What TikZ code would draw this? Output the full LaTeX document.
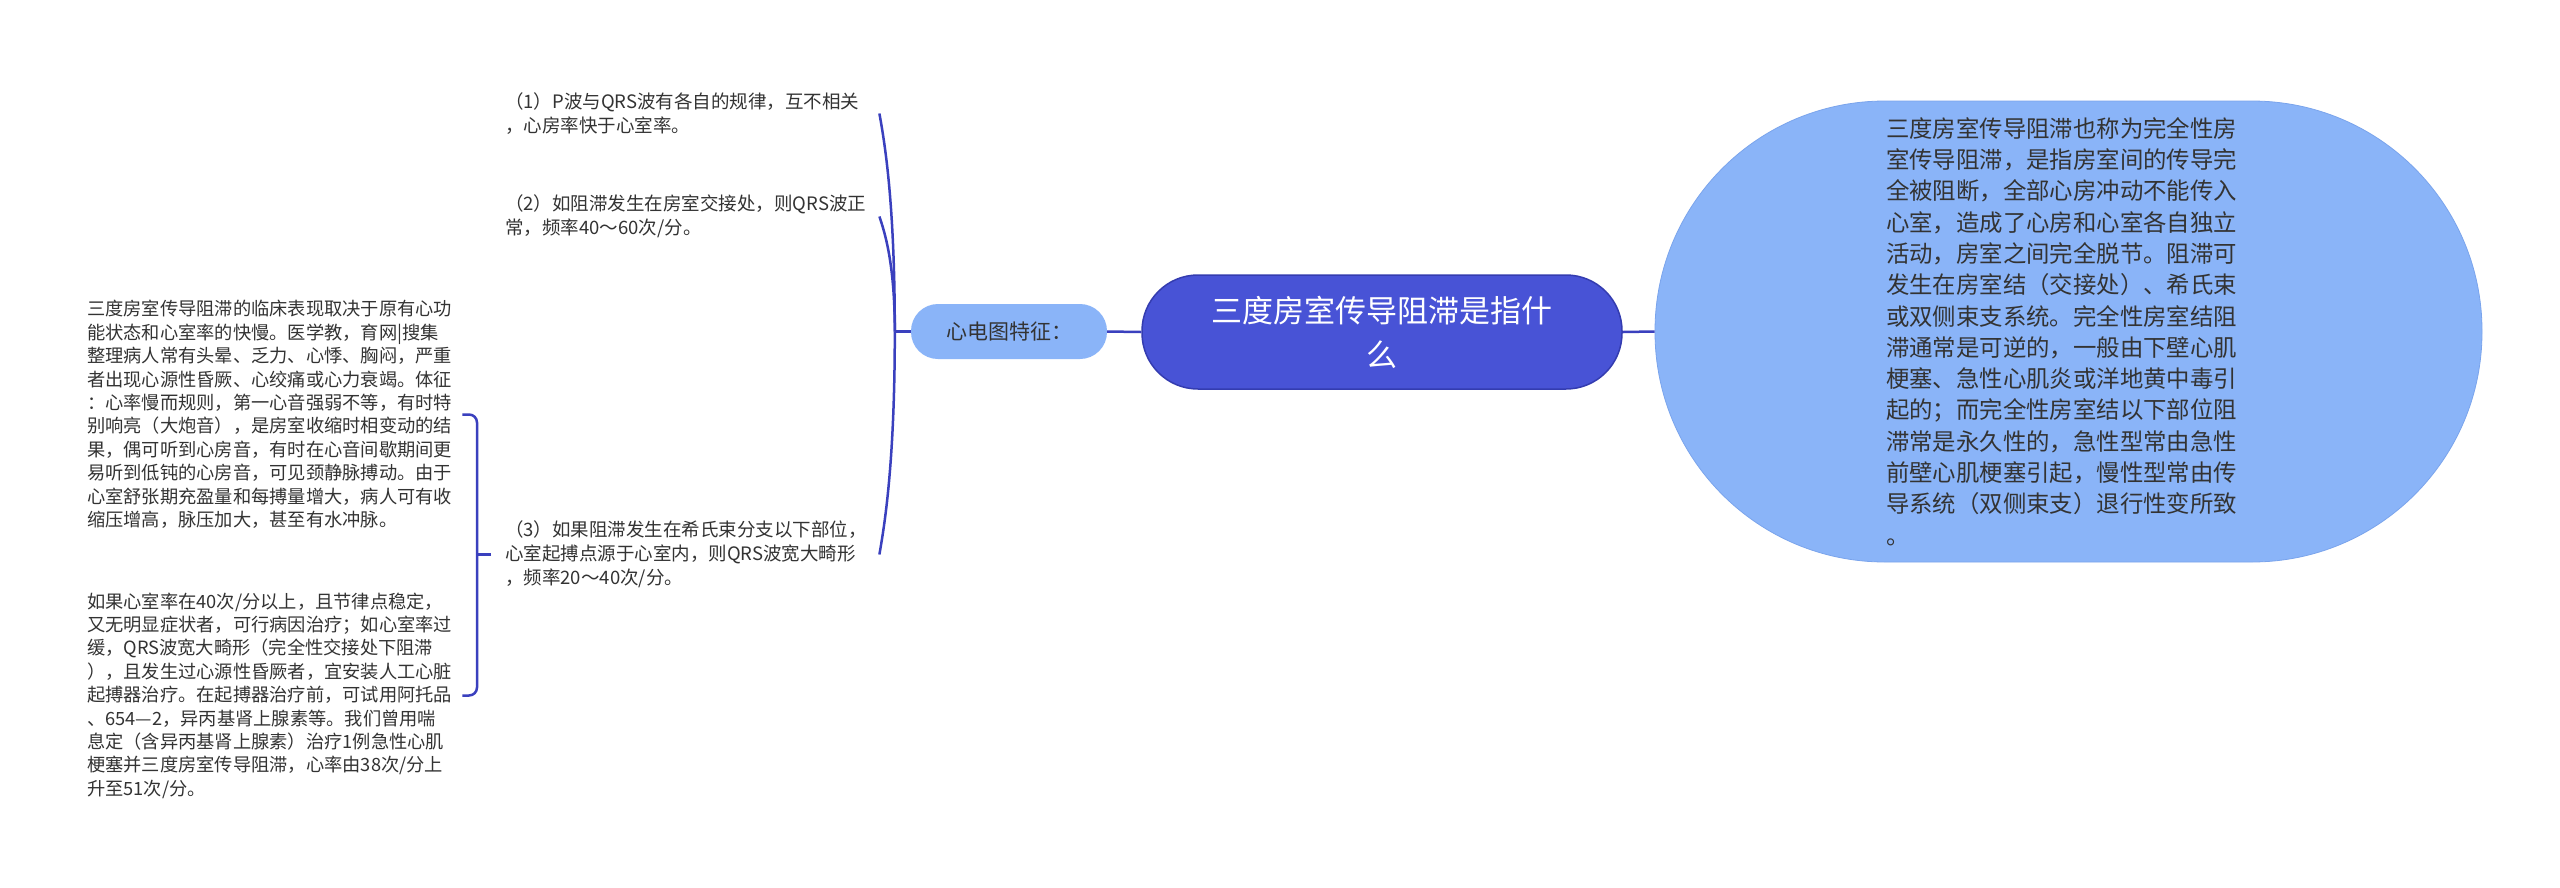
\documentclass[tikz,border=0pt]{standalone}
\usepackage{fontspec}
\setmainfont{Noto Sans CJK SC}
\usetikzlibrary{calc}
\definecolor{linec}{HTML}{3A40BE}
\definecolor{mainc}{HTML}{4853D6}
\definecolor{mainb}{HTML}{343CB0}
\definecolor{lightc}{HTML}{8AB4F8}
\definecolor{lightb}{HTML}{7AA4EC}
\definecolor{txt}{HTML}{333333}
\begin{document}
\begin{tikzpicture}[x=1pt,y=-1pt,
  conn/.style={draw=linec,line width=2.5pt},
  central/.style={draw=mainb,line width=1.5pt,fill=mainc,rounded corners=56pt,
    minimum width=480pt,minimum height=114pt,inner sep=0pt,align=center,
    text=white,font=\fontsize{31pt}{44pt}\selectfont},
  detail/.style={draw=lightb,line width=0.8pt,fill=lightc,rounded corners=230pt,
    minimum width=827pt,minimum height=461pt,inner sep=0pt,text width=365pt,
    align=left,text=txt,font=\fontsize{23.4pt}{31.3pt}\selectfont},
  topic/.style={fill=lightc,rounded corners=27pt,minimum width=196pt,
    minimum height=55pt,inner sep=0pt,text=txt,font=\fontsize{21pt}{25pt}\selectfont},
  item/.style={anchor=west,text width=360pt,inner xsep=14pt,inner ysep=0pt,
    align=left,text=txt,font=\fontsize{18.5pt}{24pt}\selectfont},
  block/.style={anchor=west,text width=365pt,inner xsep=10pt,inner ysep=0pt,
    align=left,text=txt,font=\fontsize{18.25pt}{23.4pt}\selectfont}
]
\fill[white] (0,0) rectangle (2560,887);
\useasboundingbox (0,0) rectangle (2560,887);

\node[central] (root) at (1382,332) {三度房室传导阻滞是指什\\么};

\node[detail] (detail) at (2068.5,331.5) {三度房室传导阻滞也称为完全性房\\室传导阻滞，是指房室间的传导完\\全被阻断，全部心房冲动不能传入\\心室，造成了心房和心室各自独立\\活动，房室之间完全脱节。阻滞可\\发生在房室结（交接处）、希氏束\\或双侧束支系统。完全性房室结阻\\滞通常是可逆的，一般由下壁心肌\\梗塞、急性心肌炎或洋地黄中毒引\\起的；而完全性房室结以下部位阻\\滞常是永久性的，急性型常由急性\\前壁心肌梗塞引起，慢性型常由传\\导系统（双侧束支）退行性变所致\\。};

\node[topic] (topic) at (1009,331.5) {心电图特征：};

\node[item] (i1) at (491,113.5) {（1）P波与QRS波有各自的规律，互不相关\\，心房率快于心室率。};
\node[item] (i2) at (491,216.5) {（2）如阻滞发生在房室交接处，则QRS波正\\常，频率40～60次/分。};
\node[item] (i3) at (491,554.5) {（3）如果阻滞发生在希氏束分支以下部位，\\心室起搏点源于心室内，则QRS波宽大畸形\\，频率20～40次/分。};

\node[block] (b1) at (77,414.5) {三度房室传导阻滞的临床表现取决于原有心功\\能状态和心室率的快慢。医学教，育网|搜集\\整理病人常有头晕、乏力、心悸、胸闷，严重\\者出现心源性昏厥、心绞痛或心力衰竭。体征\\：心率慢而规则，第一心音强弱不等，有时特\\别响亮（大炮音），是房室收缩时相变动的结\\果，偶可听到心房音，有时在心音间歇期间更\\易听到低钝的心房音，可见颈静脉搏动。由于\\心室舒张期充盈量和每搏量增大，病人可有收\\缩压增高，脉压加大，甚至有水冲脉。};
\node[block] (b2) at (77,695.5) {如果心室率在40次/分以上，且节律点稳定，\\又无明显症状者，可行病因治疗；如心室率过\\缓，QRS波宽大畸形（完全性交接处下阻滞\\），且发生过心源性昏厥者，宜安装人工心脏\\起搏器治疗。在起搏器治疗前，可试用阿托品\\、654—2，异丙基肾上腺素等。我们曾用喘\\息定（含异丙基肾上腺素）治疗1例急性心肌\\梗塞并三度房室传导阻滞，心率由38次/分上\\升至51次/分。};

% connectors
\draw[conn] (root.east) -- (detail.west);
\draw[conn] (topic.east) -- (root.west);
\coordinate (tj) at ($(topic.west)+(-16,0)$);
\draw[conn] (topic.west) -- (tj);
\draw[conn] (tj) .. controls +(0,-131) and +(5,28) .. (i1.east);
\draw[conn] (tj) .. controls +(0,-69) and +(5,15) .. (i2.east);
\draw[conn] (tj) .. controls +(0,133) and +(5,-29) .. (i3.east);

\coordinate (bj) at ($(i3.west)+(-14,0)$);
\draw[conn,rounded corners=8pt] (b1.east) -| (bj) |- (b2.east);
\draw[conn] (i3.west) -- (bj);
\end{tikzpicture}
\end{document}
